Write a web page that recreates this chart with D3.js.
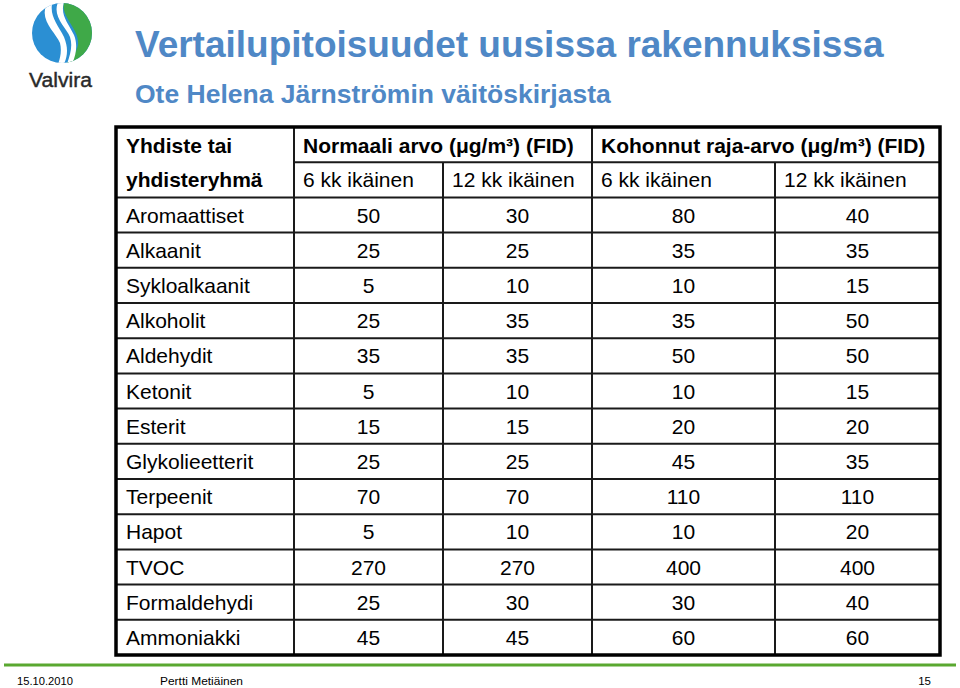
<!DOCTYPE html>
<html><head><meta charset="utf-8">
<script src="https://cdn.jsdelivr.net/npm/d3@7"></script>
<style>body{margin:0;background:#fff}svg{display:block}</style>
</head><body>
<script>
const titleText = "Vertailupitoisuudet uusissa rakennuksissa";
const subtitleText = "Ote Helena Järnströmin väitöskirjasta";
const groupHeaders = ["Normaali arvo (\u03bcg/m\u00b3) (FID)", "Kohonnut raja-arvo (\u03bcg/m\u00b3) (FID)"];
const subHeaders = ["6 kk ikäinen", "12 kk ikäinen", "6 kk ikäinen", "12 kk ikäinen"];
const firstHeader = ["Yhdiste tai", "yhdisteryhmä"];
const categories = ["Aromaattiset","Alkaanit","Sykloalkaanit","Alkoholit","Aldehydit","Ketonit","Esterit","Glykolieetterit","Terpeenit","Hapot","TVOC","Formaldehydi","Ammoniakki"];
const normal6  = [50,25,5,25,35,5,15,25,70,5,270,25,45];
const normal12 = [30,25,10,35,35,10,15,25,70,10,270,30,45];
const raised6  = [80,35,10,35,50,10,20,45,110,10,400,30,60];
const raised12 = [40,35,15,50,50,15,20,35,110,20,400,40,60];
const footer = ["15.10.2010", "Pertti Metiäinen", "15"];

const W = 960, H = 688;
const svg = d3.select("body").append("svg").attr("width", W).attr("height", H);
const font = "'Liberation Sans', Arial, sans-serif";

// Logo
const logo = svg.append("g").attr("transform", "translate(62,33)");
const R = 30;
logo.append("clipPath").attr("id","lc").append("circle").attr("r", R);
const lg = logo.append("g").attr("clip-path","url(#lc)");
lg.append("rect").attr("x",-R).attr("y",-R).attr("width",2*R).attr("height",2*R).attr("fill","#2b8fd3");
lg.append("path").attr("d","M2,-31 C-2,-16 18,-4 16,12 C14,22 6,28 4,31 L40,31 L40,-31 Z").attr("fill","#3fa948");
lg.append("path").attr("d","M-16,-27 C-22,-12 -6,0 -2,10 C0,18 -2,26 -4,31 L2,31 C6,22 6,14 2,4 C-4,-8 -12,-16 -10,-29 Z").attr("fill","#fff");
lg.append("path").attr("d","M-4,-31 C-10,-16 4,-6 8,4 C11,13 8,22 5,31 L10,31 C14,22 16,12 12,2 C6,-10 -2,-18 2,-31 Z").attr("fill","#fff");
svg.append("text").attr("x", 29).attr("y", 87)
  .attr("font-family", font).attr("font-size", 20).attr("fill", "#2a2a2a")
  .attr("stroke", "#2a2a2a").attr("stroke-width", 0.4)
  .attr("textLength", 63).attr("lengthAdjust", "spacingAndGlyphs").text("Valvira");

// Title
svg.append("text").attr("x", 135).attr("y", 57).attr("font-family", font).attr("font-weight","bold")
  .attr("font-size", 37).attr("fill", "#4f88c6").text(titleText);
svg.append("text").attr("x", 135).attr("y", 103).attr("font-family", font).attr("font-weight","bold")
  .attr("font-size", 26.5).attr("fill", "#4f88c6").text(subtitleText);

// Table layout
const colEdges = [116, 294, 443, 592, 775, 940];
const tableTop = 127, tableBottom = 655;
const rowKeys = ["h1","h2"].concat(categories);
const y = d3.scaleBand().domain(rowKeys).range([tableTop, tableBottom]);
const colKeys = ["label","n6","n12","r6","r12"];
const xLeft = d3.scaleOrdinal().domain(colKeys).range(colEdges.slice(0,5));
const xRight = d3.scaleOrdinal().domain(colKeys).range(colEdges.slice(1));
const xMid = k => (xLeft(k) + xRight(k)) / 2;
const bh = y.bandwidth();
const fs = 21;
const tbl = svg.append("g");

const lineColor = "#1a1a1a";
tbl.append("line").attr("x1", xLeft("n6")).attr("x2", xRight("r12"))
  .attr("y1", y("h2")).attr("y2", y("h2")).attr("stroke", lineColor).attr("stroke-width", 2);
categories.forEach(c => {
  tbl.append("line").attr("x1", colEdges[0]).attr("x2", colEdges[5])
    .attr("y1", y(c)).attr("y2", y(c)).attr("stroke", lineColor).attr("stroke-width", 2);
});
tbl.append("line").attr("x1", xLeft("n6")).attr("x2", xLeft("n6")).attr("y1", tableTop).attr("y2", tableBottom).attr("stroke", lineColor).attr("stroke-width", 2);
tbl.append("line").attr("x1", xLeft("r6")).attr("x2", xLeft("r6")).attr("y1", tableTop).attr("y2", tableBottom).attr("stroke", lineColor).attr("stroke-width", 2);
tbl.append("line").attr("x1", xLeft("n12")).attr("x2", xLeft("n12")).attr("y1", y("h2")).attr("y2", tableBottom).attr("stroke", lineColor).attr("stroke-width", 2);
tbl.append("line").attr("x1", xLeft("r12")).attr("x2", xLeft("r12")).attr("y1", y("h2")).attr("y2", tableBottom).attr("stroke", lineColor).attr("stroke-width", 2);
tbl.append("rect").attr("x", colEdges[0]).attr("y", tableTop).attr("width", colEdges[5]-colEdges[0])
  .attr("height", tableBottom-tableTop).attr("fill","none").attr("stroke", "#000").attr("stroke-width", 3.5);

const base = k => y(k) + bh/2 + fs*0.36;
const pad = 10;
tbl.append("text").attr("x", colEdges[0]+pad).attr("y", base("h1")+1).attr("font-family", font)
  .attr("font-weight","bold").attr("font-size", fs).text(firstHeader[0]);
tbl.append("text").attr("x", colEdges[0]+pad).attr("y", base("h2")).attr("font-family", font)
  .attr("font-weight","bold").attr("font-size", fs).text(firstHeader[1]);
tbl.append("text").attr("x", xLeft("n6")+9).attr("y", base("h1")+1).attr("font-family", font)
  .attr("font-weight","bold").attr("font-size", fs).text(groupHeaders[0]);
tbl.append("text").attr("x", xLeft("r6")+9).attr("y", base("h1")+1).attr("font-family", font)
  .attr("font-weight","bold").attr("font-size", fs).text(groupHeaders[1]);
["n6","n12","r6","r12"].forEach((k,i) => {
  tbl.append("text").attr("x", xLeft(k)+9).attr("y", base("h2")).attr("font-family", font)
    .attr("font-size", fs).text(subHeaders[i]);
});
const series = {n6: normal6, n12: normal12, r6: raised6, r12: raised12};
tbl.selectAll("text.lab").data(categories).join("text").attr("class","lab")
  .attr("x", colEdges[0]+pad).attr("y", d => base(d)).attr("font-family", font).attr("font-size", fs).text(d => d);
Object.keys(series).forEach(k => {
  tbl.selectAll("text.v"+k).data(series[k]).join("text").attr("class","v"+k)
    .attr("x", xMid(k)).attr("y", (d,i) => base(categories[i])).attr("text-anchor","middle")
    .attr("font-family", font).attr("font-size", fs).text(d => d);
});

// Footer
svg.append("line").attr("x1", 4).attr("x2", 956).attr("y1", 665).attr("y2", 665)
  .attr("stroke", "#5aa830").attr("stroke-width", 3);
svg.append("text").attr("x", 17).attr("y", 685).attr("font-family", font).attr("font-size", 11.5)
  .attr("textLength", 56).attr("lengthAdjust","spacingAndGlyphs").text(footer[0]);
svg.append("text").attr("x", 160).attr("y", 685).attr("font-family", font).attr("font-size", 11.5)
  .attr("textLength", 83).attr("lengthAdjust","spacingAndGlyphs").text(footer[1]);
svg.append("text").attr("x", 931).attr("y", 685).attr("text-anchor","end").attr("font-family", font).attr("font-size", 11.5).text(footer[2]);
</script>
</body></html>
